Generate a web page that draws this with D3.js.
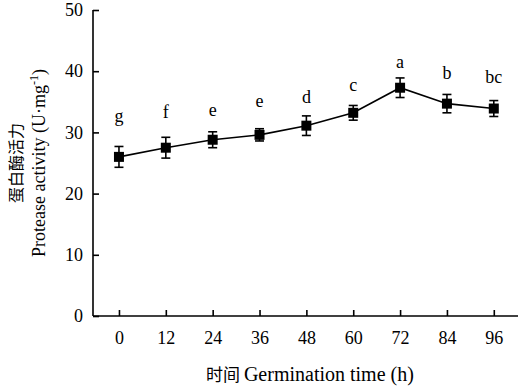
<!DOCTYPE html>
<html>
<head>
<meta charset="utf-8">
<script src="https://cdn.jsdelivr.net/npm/d3@7"></script>
<style>
  html, body { margin: 0; padding: 0; background: #fff; }
  svg { display: block; }
</style>
</head>
<body>
<script>
const hours = [0, 12, 24, 36, 48, 60, 72, 84, 96];
const activity = [26.0, 27.5, 28.8, 29.6, 31.1, 33.2, 37.3, 34.7, 33.9];
const sd = [1.7, 1.7, 1.3, 1.0, 1.6, 1.2, 1.6, 1.5, 1.3];
const letters = ["g", "f", "e", "e", "d", "c", "a", "b", "bc"];
const letterLevel = [31.7, 32.4, 32.7, 34.2, 34.8, 36.8, 40.5, 38.7, 38.1];
const xTicks = [0, 12, 24, 36, 48, 60, 72, 84, 96];
const yTicks = [0, 10, 20, 30, 40, 50];

const W = 525, H = 392;
const serif = "Liberation Serif, Times New Roman, serif";
const cjk = "Noto Sans CJK SC, sans-serif";
const FS = 18;

const svg = d3.select("body").append("svg").attr("width", W).attr("height", H);

const x = d3.scaleLinear().domain([-6.65, 102.2]).range([93, 518]);
const y = d3.scaleLinear().domain([0, 50]).range([316, 10]);

// axes
const gx = svg.append("g").attr("transform", `translate(0,${y(0)})`)
  .call(d3.axisTop(x).tickValues(xTicks).tickSize(6).tickFormat(d3.format("d")));
gx.select(".domain").attr("d", `M${x.range()[0]},0H${x.range()[1]}`);
gx.selectAll("text").attr("y", 15).attr("dy", "0.71em");

const gy = svg.append("g").attr("transform", `translate(${x.range()[0]},0)`)
  .call(d3.axisRight(y).tickValues(yTicks).tickSize(6).tickFormat(d3.format("d")));
gy.select(".domain").attr("d", `M0,${y.range()[0]}V${y.range()[1]}`);
gy.selectAll("text").attr("x", -10).attr("text-anchor", "end");

[gx, gy].forEach(g => {
  g.attr("font-family", serif).attr("font-size", FS);
  g.select(".domain").attr("stroke", "#000").attr("stroke-width", 1.6);
  g.selectAll(".tick line").attr("stroke", "#000").attr("stroke-width", 1.6);
  g.selectAll("text").style("font-family", serif).style("font-size", FS + "px").attr("fill", "#000");
});

// line
svg.append("path")
  .datum(hours.map((h, i) => [h, activity[i]]))
  .attr("fill", "none").attr("stroke", "#000").attr("stroke-width", 1.6)
  .attr("d", d3.line().x(d => x(d[0])).y(d => y(d[1])));

// error bars
const eb = svg.append("g").selectAll("g").data(hours).join("g");
eb.append("line")
  .attr("x1", d => x(d)).attr("x2", d => x(d))
  .attr("y1", (d, i) => y(activity[i] + sd[i])).attr("y2", (d, i) => y(activity[i] - sd[i]))
  .attr("stroke", "#000").attr("stroke-width", 1.6);
[1, -1].forEach(s => {
  eb.append("line")
    .attr("x1", d => x(d) - 4.5).attr("x2", d => x(d) + 4.5)
    .attr("y1", (d, i) => y(activity[i] + s * sd[i])).attr("y2", (d, i) => y(activity[i] + s * sd[i]))
    .attr("stroke", "#000").attr("stroke-width", 1.6);
});

// markers
svg.append("g").selectAll("rect").data(hours).join("rect")
  .attr("x", d => x(d) - 5).attr("y", (d, i) => y(activity[i]) - 5)
  .attr("width", 10).attr("height", 10).attr("fill", "#000");

// significance letters
svg.append("g").selectAll("text").data(hours).join("text")
  .attr("x", d => x(d)).attr("y", (d, i) => y(letterLevel[i]))
  .attr("text-anchor", "middle")
  .style("font-family", serif).style("font-size", FS + "px").attr("fill", "#000")
  .text((d, i) => letters[i]);

// x title
const xt = svg.append("text")
  .attr("x", 310).attr("y", 381).attr("text-anchor", "middle")
  .style("font-family", serif).style("font-size", "20px").attr("fill", "#000");
xt.append("tspan").style("font-family", cjk).style("font-size", "17px").text("时间 ");
xt.append("tspan").text("Germination time (h)");

// y titles
const cy = (y.range()[0] + y.range()[1]) / 2;
svg.append("text")
  .attr("transform", `translate(22,${cy}) rotate(-90)`)
  .attr("text-anchor", "middle")
  .style("font-family", cjk).style("font-size", "16px").attr("fill", "#000")
  .text("蛋白酶活力");
const yt = svg.append("text")
  .attr("transform", `translate(45,${cy}) rotate(-90)`)
  .attr("text-anchor", "middle")
  .style("font-family", serif).style("font-size", FS + "px").attr("fill", "#000");
yt.append("tspan").text("Protease activity (U·mg");
yt.append("tspan").style("font-size", "12px").attr("dy", -7).text("-1");
yt.append("tspan").attr("dy", 7).text(")");
</script>
</body>
</html>
